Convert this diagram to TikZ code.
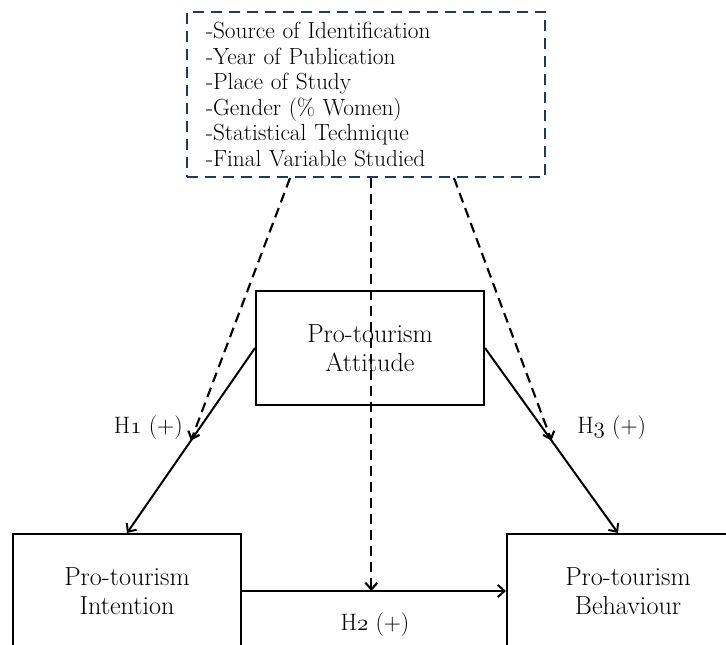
\documentclass[tikz,border=0pt]{standalone}
\usepackage{fontspec}
\usetikzlibrary{arrows.meta,calc}
\definecolor{navy}{HTML}{1F3864}
\newcommand{\osn}[1]{$\mathnormal{#1}$}
\tikzset{
  box/.style={draw=black, line width=1.5pt, fill=white, minimum width=171pt, minimum height=85.5pt, align=center, inner sep=0pt,
    font=\fontsize{19.6}{21.75}\selectfont},
  modbox/.style={draw=navy, line width=1.6pt, dash pattern=on 8pt off 5.5pt, text width=240pt, inner xsep=14.25pt, inner ysep=0pt,
    minimum height=123.75pt, align=left, font=\fontsize{17.5}{19.1}\selectfont},
  arr/.style={line width=1.5pt, -{Straight Barb[length=5pt,width=9pt]}},
  darr/.style={line width=1.6pt, dash pattern=on 7.5pt off 4.5pt, -{Straight Barb[length=5pt,width=9pt]}},
  hlab/.style={inner sep=0pt, font=\fontsize{17.8}{20}\selectfont},
}
\begin{document}
\begin{tikzpicture}[x=0.75pt,y=-0.75pt]
\clip (0,0) rectangle (726,644);
\fill[white] (0,0) rectangle (726,644);
\node[modbox] (mod) at (366,94.5) {-Source of Identification\\-Year of Publication\\-Place of Study\\-Gender (\% Women)\\-Statistical Technique\\-Final Variable Studied};
\node[box] (att) at (370,348) {Pro-tourism\\Attitude};
\node[box] (int) at (127,591) {Pro-tourism\\Intention};
\node[box, minimum width=181.5pt] (beh) at (628,591) {Pro-tourism\\Behaviour};
\coordinate (behin) at ($(beh.north)+(-10,0)$);
\draw[arr] (att.west) -- (int.north);
\draw[arr] (att.east) -- (behin);
\draw[arr] (int.east) -- (beh.west);
\coordinate (m1) at ($(att.west)!0.5!(int.north)$);
\coordinate (m3) at ($(att.east)!0.5!(behin)$);
\coordinate (m2) at ($(int.east)!0.49!(beh.west)$);
\draw[darr] ($(mod.south)+(-76,0)$) -- (m1);
\draw[darr] ($(mod.south)+(88,0)$) -- (m3);
\draw[darr] (m2 |- mod.south) -- (m2);
\node[hlab, anchor=base east] (h1) at (183,433) {H\osn{1} (+)};
\node[hlab, anchor=base west] (h3) at (577,433) {H\osn{3} (+)};
\node[hlab, anchor=base] (h2) at (375,630) {H\osn{2} (+)};
\end{tikzpicture}
\end{document}
